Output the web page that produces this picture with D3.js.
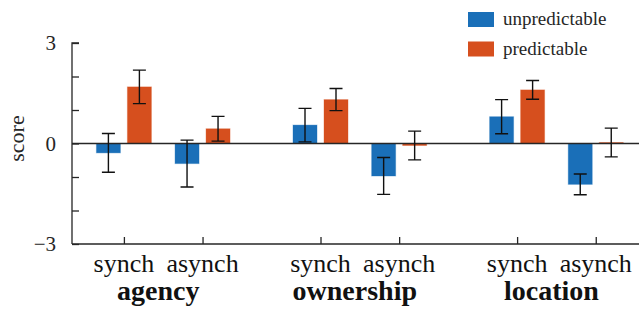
<!DOCTYPE html>
<html>
<head>
<meta charset="utf-8">
<script src="https://cdn.jsdelivr.net/npm/d3@7"></script>
</head>
<body style="margin:0">
<script>
// 数据
const groups = ["agency", "ownership", "location"];
const conditions = ["synch", "asynch"];
const seriesNames = ["unpredictable", "predictable"];
const unpredictable = [-0.28, -0.60, 0.55, -0.97, 0.80, -1.22];
const unpredictableErr = [0.58, 0.70, 0.50, 0.55, 0.51, 0.31];
const predictable = [1.69, 0.44, 1.31, -0.06, 1.60, 0.03];
const predictableErr = [0.50, 0.37, 0.33, 0.43, 0.28, 0.43];
const yTicks = [-3, -2, -1, 0, 1, 2, 3];
const yLabels = [-3, 0, 3];

const colors = ["#1a6fb8", "#d64f1e"];
const ink = "#262626";
const fontName = "Liberation Serif";

const width = 639;
const height = 312;

const svg = d3.select("body").append("svg")
  .attr("width", width)
  .attr("height", height)
  .attr("font-family", fontName)
  .style("font-family", `"${fontName}"`);

// 文字：字体直接写在每个 text 上
function addText(parent, size, weight) {
  return parent.append("text")
    .attr("font-family", fontName)
    .style("font-family", `"${fontName}"`)
    .attr("font-size", size)
    .attr("font-weight", weight || "normal");
}

// 每个条件的位置：组内间隔 1，组间间隔 1.5
const positions = [];
groups.forEach((g, gi) => {
  conditions.forEach((c, ci) => {
    positions.push({ group: g, cond: c, p: 1 + gi * 2.5 + ci });
  });
});

const x = d3.scaleLinear().domain([0.34, 7.55]).range([72, 639]);
const y = d3.scaleLinear().domain([-3, 3]).range([244, 43]);

const barW = 24;
const offset = 15.5;

// 条形
const seriesData = [
  { name: seriesNames[0], vals: unpredictable, errs: unpredictableErr, color: colors[0], dx: -offset },
  { name: seriesNames[1], vals: predictable, errs: predictableErr, color: colors[1], dx: offset }
];

seriesData.forEach(s => {
  svg.selectAll(null)
    .data(positions.map((d, i) => ({ ...d, v: s.vals[i] })))
    .enter()
    .append("rect")
    .attr("x", d => x(d.p) + s.dx - barW / 2)
    .attr("y", d => y(Math.max(0, d.v)))
    .attr("width", barW)
    .attr("height", d => Math.abs(y(d.v) - y(0)))
    .attr("fill", s.color)
    .attr("stroke", s.color)
    .attr("stroke-opacity", 0.35)
    .attr("stroke-width", 1);
});

// 零线
svg.append("line")
  .attr("x1", x.range()[0]).attr("x2", x.range()[1])
  .attr("y1", y(0)).attr("y2", y(0))
  .attr("stroke", ink).attr("stroke-width", 1.3);

// 误差线
seriesData.forEach(s => {
  positions.forEach((d, i) => {
    const cx = x(d.p) + s.dx;
    const lo = y(s.vals[i] - s.errs[i]);
    const hi = y(s.vals[i] + s.errs[i]);
    const path = `M${cx},${lo}V${hi}M${cx - 6.5},${lo}H${cx + 6.5}M${cx - 6.5},${hi}H${cx + 6.5}`;
    svg.append("path").attr("d", path).attr("fill", "none")
      .attr("stroke", "#111").attr("stroke-width", 1.4);
  });
});

// Y 轴
const yAxis = svg.append("g")
  .attr("transform", `translate(${x.range()[0]},0)`)
  .call(d3.axisRight(y).tickValues(yTicks).tickSize(7).tickFormat(""))
  .attr("font-family", null);
yAxis.select(".domain").attr("d", `M7,${y(3)}H0V${y(-3)}`).attr("stroke", ink).attr("stroke-width", 1.3);
yAxis.selectAll(".tick line").attr("stroke", ink).attr("stroke-width", 1.3);
yAxis.selectAll(".tick text").remove();

yLabels.forEach(v => {
  addText(svg, 21)
    .attr("x", 56)
    .attr("y", y(v) + 7)
    .attr("text-anchor", "end")
    .attr("fill", ink)
    .text(v < 0 ? "\u2212" + Math.abs(v) : String(v));
});

addText(svg, 22)
  .attr("transform", `translate(24,${y(0) - 5}) rotate(-90)`)
  .attr("text-anchor", "middle")
  .attr("fill", ink)
  .text("score");

// X 轴
const xAxis = svg.append("g")
  .attr("transform", `translate(0,${y(-3)})`)
  .call(d3.axisTop(x).tickValues(positions.map(d => d.p)).tickSize(7).tickFormat(""))
  .attr("font-family", null);
xAxis.select(".domain").attr("d", `M${x.range()[0]},0H${x.range()[1]}`).attr("stroke", ink).attr("stroke-width", 1.3);
xAxis.selectAll(".tick line").attr("stroke", ink).attr("stroke-width", 1.3);
xAxis.selectAll(".tick text").remove();

positions.forEach(d => {
  addText(svg, 26)
    .attr("x", x(d.p))
    .attr("y", 272)
    .attr("text-anchor", "middle")
    .attr("fill", "#111")
    .text(d.cond);
});

groups.forEach((g, gi) => {
  addText(svg, 28, "bold")
    .attr("x", x(1 + gi * 2.5 + 0.5) - 5)
    .attr("y", 300)
    .attr("text-anchor", "middle")
    .attr("fill", "#111")
    .text(g);
});

// 图例
seriesNames.forEach((name, i) => {
  svg.append("rect")
    .attr("x", 468).attr("y", 12 + i * 29.5)
    .attr("width", 26).attr("height", 15)
    .attr("fill", colors[i]);
  addText(svg, 19)
    .attr("x", 503).attr("y", 25 + i * 29.5)
    .attr("fill", ink)
    .text(name);
});
</script>
</body>
</html>
